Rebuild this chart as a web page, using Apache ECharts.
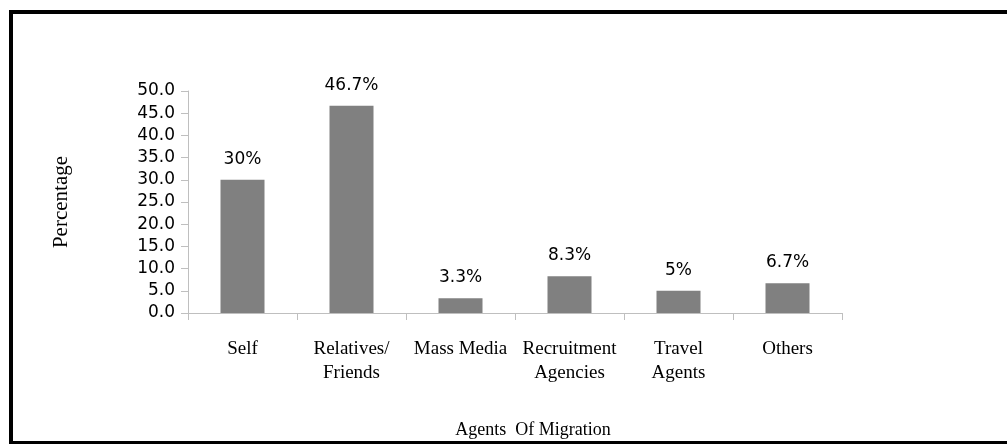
<!DOCTYPE html>
<html>
<head>
<meta charset="utf-8">
<script src="https://cdn.jsdelivr.net/npm/echarts@6/dist/echarts.min.js"></script>
<style>html,body{margin:0;padding:0;background:#fff;}#c{width:1007px;height:444px;}</style>
</head>
<body>
<div id="c"></div>
<script>
const categories = ['Self', 'Relatives/\nFriends', 'Mass Media', 'Recruitment\nAgencies', 'Travel\nAgents', 'Others'];
const values = [30, 46.7, 3.3, 8.3, 5, 6.7];
const valueLabels = ['30%', '46.7%', '3.3%', '8.3%', '5%', '6.7%'];
const yTicks = { min: 0, max: 50, interval: 5 };

const chart = echarts.init(document.getElementById('c'), null, { renderer: 'canvas' });
chart.setOption({
  animation: false,
  backgroundColor: '#ffffff',
  graphic: [{
    type: 'rect',
    shape: { x: 11, y: 12, width: 1010, height: 431 },
    style: { fill: 'none', stroke: '#000', lineWidth: 4 },
    z: 100
  }],
  grid: { left: 188, right: 165, top: 91, bottom: 130 },
  xAxis: {
    type: 'category',
    data: categories,
    name: 'Agents  Of Migration',
    nameLocation: 'middle',
    nameGap: 108,
    nameTextStyle: { fontFamily: 'Liberation Serif', fontSize: 18, color: '#000', padding: [0, 0, 0, 36] },
    axisLine: { lineStyle: { color: '#bfbfbf', width: 1 } },
    axisTick: { show: true, alignWithLabel: false, length: 7, lineStyle: { color: '#bfbfbf' } },
    axisLabel: { fontFamily: 'Liberation Serif', fontSize: 19, color: '#000', margin: 24, lineHeight: 24, interval: 0 }
  },
  yAxis: {
    type: 'value',
    min: yTicks.min, max: yTicks.max, interval: yTicks.interval,
    name: 'Percentage',
    nameLocation: 'middle',
    nameGap: 116,
    nameTextStyle: { fontFamily: 'Liberation Serif', fontSize: 21, color: '#000' },
    splitLine: { show: false },
    axisLine: { show: true, lineStyle: { color: '#bfbfbf', width: 1 } },
    axisTick: { show: true, length: 7, lineStyle: { color: '#bfbfbf' } },
    axisLabel: { fontFamily: 'DejaVu Sans', fontSize: 17, color: '#000', margin: 13, formatter: v => v.toFixed(1) }
  },
  series: [{
    type: 'bar',
    data: values,
    barWidth: 44,
    itemStyle: { color: '#808080' },
    label: {
      show: true, position: 'top', distance: 12,
      fontFamily: 'DejaVu Sans', fontSize: 17, color: '#000',
      formatter: p => valueLabels[p.dataIndex]
    }
  }]
});
</script>
</body>
</html>
